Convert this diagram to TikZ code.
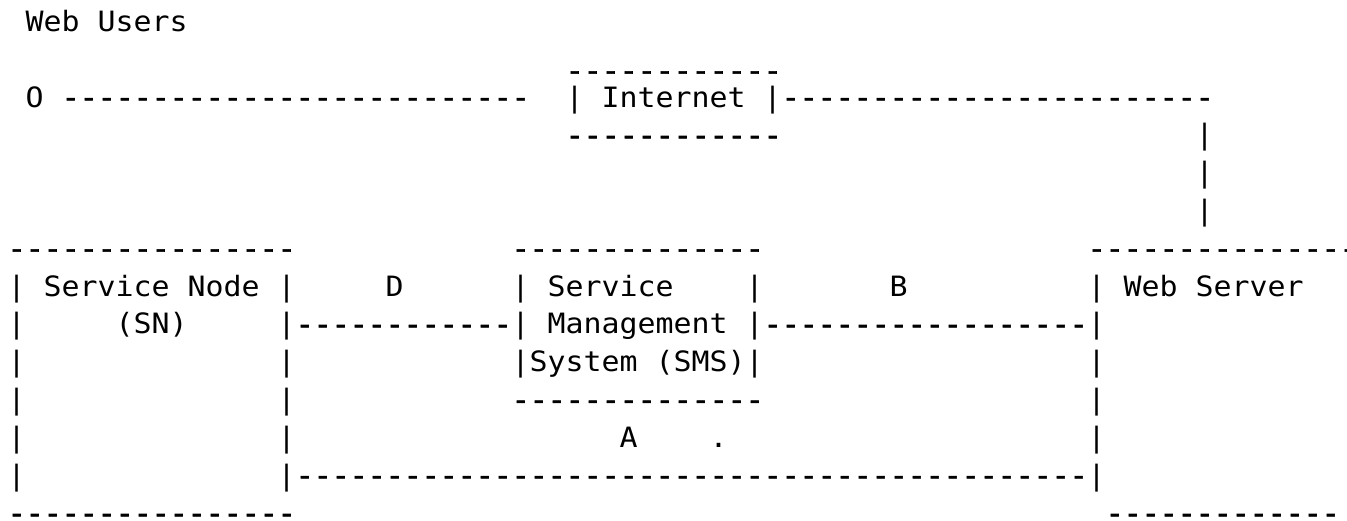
\documentclass[tikz,border=0pt]{standalone}
\usepackage{fontspec}
\setmonofont[FakeStretch=1.068]{DejaVu Sans Mono}
% a run of hyphens, set a little heavier than the letters
\newcommand\dashrun[1]{{\addfontfeature{FakeBold=2}\foreach\k in {1,...,#1}{-}}}
% place a text run at a character cell: name, column, row, text
\newcommand\asc[5][]{\node[txt,#1] (#2) at ({7.7+18*#3},{31.4+37.8*#4}) {#5};}
\begin{document}
\begin{tikzpicture}[x=1pt,y=-1pt,
  txt/.style={anchor=base west,inner sep=0pt,outer sep=0pt,
    font=\ttfamily\fontsize{28}{28}\selectfont}]
\useasboundingbox (0,0) rectangle (1347,520);
% web users and the internet cloud
\asc{users}{1}{0}{Web Users}
\asc[yshift=-11pt]{inettop}{31}{1}{\dashrun{12}}
\asc{user}{1}{2}{O}
\asc{ulink}{3}{2}{\dashrun{26}}
\asc{inet}{31}{2}{| Internet |}
\asc{ilink}{43}{2}{\dashrun{24}}
\asc{inetbot}{31}{3}{\dashrun{12}}
\asc{vA}{66}{3}{|}
\asc{vB}{66}{4}{|}
\asc{vC}{66}{5}{|}
% tops of the three lower boxes
\asc{sntop}{0}{6}{\dashrun{16}}
\asc{smstop}{28}{6}{\dashrun{14}}
\asc{wstop}{60}{6}{\dashrun{15}}
% row with the box titles
\asc{snA}{0}{7}{| Service Node |}
\asc{labD}{21}{7}{D}
\asc{smsA}{28}{7}{| Service}
\asc{smsAr}{41}{7}{|}
\asc{labB}{49}{7}{B}
\asc{wsA}{60}{7}{| Web Server}
% interfaces D and B
\asc{snBl}{0}{8}{|}
\asc{snB}{6}{8}{(SN)}
\asc{snBr}{15}{8}{|}
\asc{linkD}{16}{8}{\dashrun{12}}
\asc{smsB}{28}{8}{| Management |}
\asc{linkB}{42}{8}{\dashrun{18}}
\asc{wsB}{60}{8}{|}
% lower part of the boxes
\asc{snCl}{0}{9}{|}
\asc{snCr}{15}{9}{|}
\asc{smsC}{28}{9}{|System (SMS)|}
\asc{wsC}{60}{9}{|}
\asc{snDl}{0}{10}{|}
\asc{snDr}{15}{10}{|}
\asc{smsbot}{28}{10}{\dashrun{14}}
\asc{wsD}{60}{10}{|}
\asc{snEl}{0}{11}{|}
\asc{snEr}{15}{11}{|}
\asc{labA}{34}{11}{A}
\asc{dot}{39}{11}{.}
\asc{wsE}{60}{11}{|}
% interface A
\asc{snFl}{0}{12}{|}
\asc{snFr}{15}{12}{|}
\asc{linkA}{16}{12}{\dashrun{44}}
\asc{wsF}{60}{12}{|}
% box bottoms
\asc{snbot}{0}{13}{\dashrun{16}}
\asc{wsbot}{61}{13}{\dashrun{13}}
\end{tikzpicture}
\end{document}
